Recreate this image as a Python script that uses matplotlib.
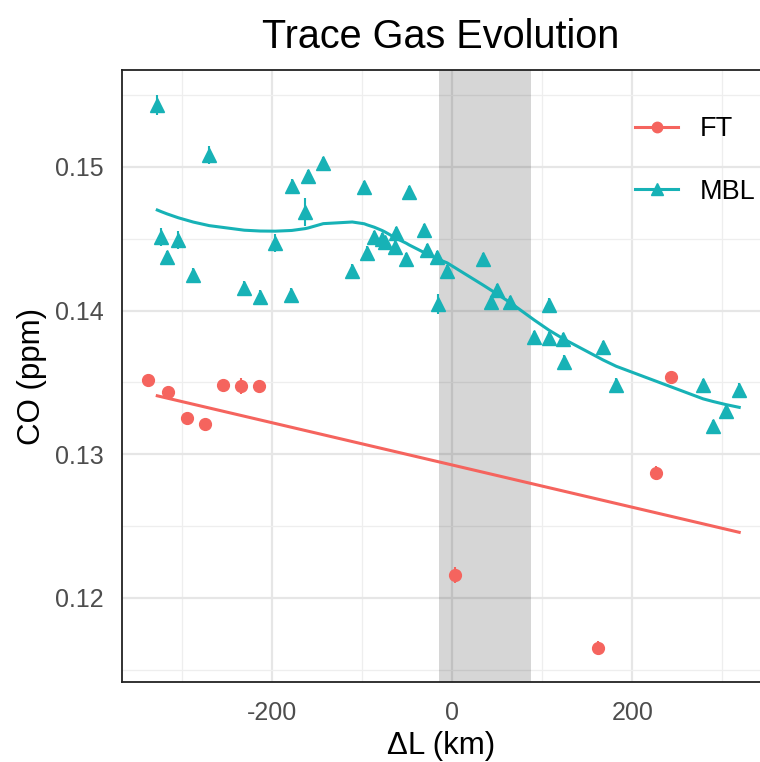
import numpy as np
import matplotlib
matplotlib.use("Agg")
from matplotlib import pyplot as plt
from matplotlib.lines import Line2D
from matplotlib.ticker import MultipleLocator

plt.rcParams['font.family'] = ['Liberation Sans', 'DejaVu Sans']
plt.rcParams['axes.unicode_minus'] = False

# FT (free troposphere) samples
ft_x = [-337.8, -315.6, -294.4, -274.4, -254.4, -234.4, -214.4, 3.3, 162.2, 226.7, 243.3]
ft_y = [0.13518, 0.13434, 0.13253, 0.13212, 0.13483, 0.13476, 0.13476,
        0.12161, 0.11653, 0.12871, 0.13539]
ft_err = [0.0004, 0.0004, 0.0003, 0.0003, 0.0004, 0.00055, 0.0004,
          0.00055, 0.0005, 0.0005, 0.0003]

# MBL (marine boundary layer) samples
mbl_x = [-327.8, -323.3, -316.7, -304.4, -287.8, -270.0, -231.1, -213.3, -196.7,
         -178.9, -177.8, -163.3, -160.0, -143.3, -111.1, -97.8, -94.4, -86.7,
         -77.8, -74.4, -62.2, -63.3, -51.1, -47.8, -31.1, -27.8, -16.7, -15.6,
         -5.6, 34.4, 50.0, 43.3, 64.4, 107.8, 91.1, 107.8, 123.3, 124.4, 167.8,
         182.2, 278.9, 290.0, 304.4, 318.9]
mbl_y = [0.15431, 0.14513, 0.14374, 0.14492, 0.14248, 0.15084, 0.14158, 0.14095,
         0.14471, 0.14109, 0.14868, 0.14687, 0.14937, 0.15028, 0.14276, 0.14861,
         0.14402, 0.14513, 0.14499, 0.14478, 0.14541, 0.14443, 0.14360, 0.14826,
         0.14562, 0.14422, 0.14374, 0.14047, 0.14276, 0.14360, 0.14144, 0.14061,
         0.14061, 0.14040, 0.13817, 0.13810, 0.13803, 0.13643, 0.13747, 0.13483,
         0.13483, 0.13198, 0.13302, 0.13448]
mbl_err = [0.0007, 0.0006, 0.0004, 0.0006, 0.0005, 0.0006, 0.0005, 0.0005, 0.0006,
           0.0005, 0.0005, 0.001, 0.0004, 0.0004, 0.0005, 0.0004, 0.0005, 0.0004,
           0.0004, 0.0004, 0.0004, 0.0005, 0.0004, 0.0004, 0.0004, 0.0004, 0.0004,
           0.0007, 0.0004, 0.0004, 0.0004, 0.0004, 0.0004, 0.0005, 0.0004, 0.0004,
           0.0004, 0.0005, 0.0004, 0.0005, 0.0004, 0.0004, 0.0005, 0.0005]

band = (-15, 88)  # grey shaded region
FT_COL = '#F5645E'
MBL_COL = '#17B2B6'


def loess(x, y, span=0.75):
    x = np.asarray(x)
    y = np.asarray(y)
    q = int(np.floor(len(x) * span))
    out = []
    for x0 in x:
        d = np.abs(x - x0)
        h = np.sort(d)[q - 1]
        w = np.clip(1 - (d / h) ** 3, 0, None) ** 3
        c = np.polyfit(x - x0, y, 2, w=np.sqrt(w))
        out.append(c[-1])
    return np.array(out)


fig = plt.figure(figsize=(7.6, 7.62), dpi=100)
ax = fig.add_axes([122 / 760, 80 / 762, 638 / 760, 612 / 762])

ax.set_xlim(-367, 342)
ax.set_ylim(0.11415, 0.15675)

ax.xaxis.set_major_locator(MultipleLocator(200))
ax.xaxis.set_minor_locator(MultipleLocator(100))
ax.yaxis.set_major_locator(MultipleLocator(0.01))
ax.yaxis.set_minor_locator(MultipleLocator(0.005))
ax.grid(which='major', color='#E6E6E6', lw=1.6, zorder=0)
ax.grid(which='minor', color='#EEEEEE', lw=0.9, zorder=0)
ax.set_axisbelow(True)

ax.axvspan(band[0], band[1], color='black', alpha=0.16, lw=0, zorder=1)

# linear fit for FT, evaluated over the MBL extent
coef = np.polyfit(ft_x, ft_y, 1)
xl = np.linspace(min(mbl_x), max(mbl_x), 50)
ax.plot(xl, np.polyval(coef, xl), color=FT_COL, lw=2.2, zorder=2)

# loess for MBL, evaluated at the sample positions
order = np.argsort(mbl_x)
sx = np.array(mbl_x)[order]
sy = np.array(mbl_y)[order]
ax.plot(sx, loess(sx, sy, span=0.7), color=MBL_COL, lw=2.2, zorder=2)

ax.errorbar(ft_x, ft_y, yerr=ft_err, fmt='o', color=FT_COL, ms=8.5,
            elinewidth=1.5, capsize=0, zorder=3)
ax.errorbar(mbl_x, mbl_y, yerr=mbl_err, fmt='^', color=MBL_COL, ms=10,
            elinewidth=1.5, capsize=0, zorder=3)

ax.set_yticks([0.12, 0.13, 0.14, 0.15])
ax.set_yticklabels(['0.12', '0.13', '0.14', '0.15'])
ax.tick_params(which='both', length=0, labelsize=18, labelcolor='#4D4D4D')
ax.tick_params(axis='y', pad=13)
ax.tick_params(axis='x', pad=14)

for s in ['left', 'top', 'bottom']:
    ax.spines[s].set_color('#222222')
    ax.spines[s].set_linewidth(1.3)
ax.spines['right'].set_visible(False)

ax.set_title('Trace Gas Evolution', fontsize=28.5, pad=16)
ax.set_xlabel('ΔL (km)', fontsize=22.5, labelpad=4)
ax.set_ylabel('CO (ppm)', fontsize=22.5, labelpad=6)

handles = [Line2D([], [], color=FT_COL, lw=2.2, marker='o', ms=7.5),
           Line2D([], [], color=MBL_COL, lw=2.2, marker='^', ms=8.5)]
fig.legend(handles, ['FT', 'MBL'], loc='upper left',
           bbox_to_anchor=(635 / 760, 1 - 116 / 762), frameon=False,
           fontsize=19.5, handlelength=1.6, handletextpad=0.8, labelspacing=1.35,
           borderpad=0, borderaxespad=0)

fig.savefig('out.png', dpi=100)
